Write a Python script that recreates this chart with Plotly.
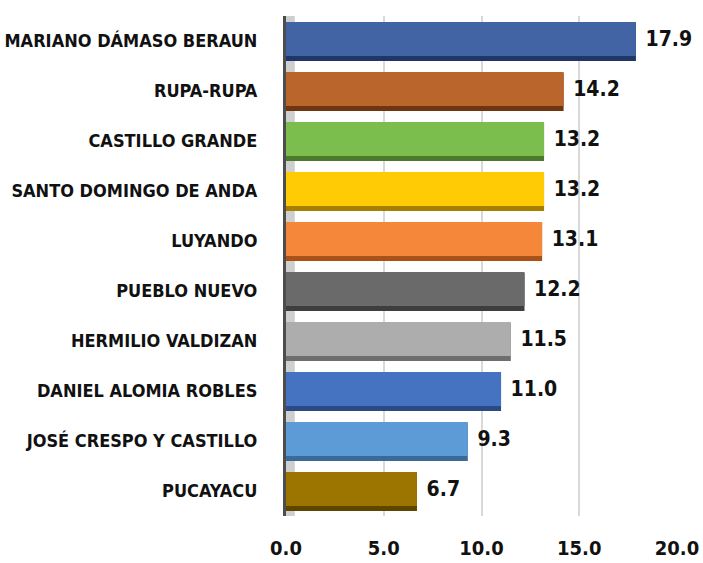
import plotly.graph_objects as go

categories = ["MARIANO DÁMASO BERAUN", "RUPA-RUPA", "CASTILLO GRANDE", "SANTO DOMINGO DE ANDA",
              "LUYANDO", "PUEBLO NUEVO", "HERMILIO VALDIZAN", "DANIEL ALOMIA ROBLES",
              "JOSÉ CRESPO Y CASTILLO", "PUCAYACU"]
values = [17.9, 14.2, 13.2, 13.2, 13.1, 12.2, 11.5, 11.0, 9.3, 6.7]
front_colors = ["#4264A4", "#B9652C", "#7BBE4E", "#FFCB05", "#F4873A",
                "#6A6A6A", "#ADADAD", "#4672C2", "#5D9BD6", "#9C7400"]
shadow_colors = ["#1F3766", "#6E3510", "#4C7A2C", "#A77F00", "#A85217",
                 "#3E3E3E", "#6E6E6E", "#2A4A86", "#3A6A99", "#5E4600"]
tick_vals = [0, 5, 10, 15, 20]
tick_text = ["0.0", "5.0", "10.0", "15.0", "20.0"]

FONT = "DejaVu Sans Condensed, Liberation Sans Narrow, Roboto, sans-serif"

fig = go.Figure()
fig.add_trace(go.Bar(
    y=categories, x=values, orientation="h",
    marker=dict(color=shadow_colors, line=dict(width=0)),
    width=0.76, offset=-0.36, hoverinfo="skip", showlegend=False,
))
fig.add_trace(go.Bar(
    y=categories, x=values, orientation="h",
    marker=dict(color=front_colors, line=dict(width=0)),
    width=0.68, offset=-0.38,
    text=[f" {v:.1f}" for v in values], textposition="outside",
    textfont=dict(family=FONT, size=21, color="#111111", weight="bold"),
    cliponaxis=False, showlegend=False,
))

fig.add_shape(type="rect", xref="x", yref="paper", x0=0, x1=0.45, y0=0, y1=1.0,
              fillcolor="#cfcfcf", line=dict(width=0), layer="below")

fig.update_layout(
    width=703, height=563,
    margin=dict(l=286, r=26, t=16, b=47, autoexpand=False),
    paper_bgcolor="white", plot_bgcolor="white",
    barmode="overlay",
    font=dict(family=FONT, color="#111111"),
    xaxis=dict(range=[0, 20], tickvals=tick_vals, ticktext=tick_text,
               showgrid=True, gridcolor="#d9d9d9", gridwidth=1.5,
               zeroline=False, showline=False, automargin=False,
               tickfont=dict(family=FONT, size=20, color="#111111", weight="bold"),
               ticklabelstandoff=18),
    yaxis=dict(autorange="reversed", showgrid=False, zeroline=False, automargin=False,
               showline=True, linecolor="#4d4d4d", linewidth=3,
               tickfont=dict(family=FONT, size=18, color="#111111", weight="bold"),
               ticklabelstandoff=22),
)

fig.write_html("out.html", config={"displayModeBar": False},
               post_script="document.body.style.margin='0';")
